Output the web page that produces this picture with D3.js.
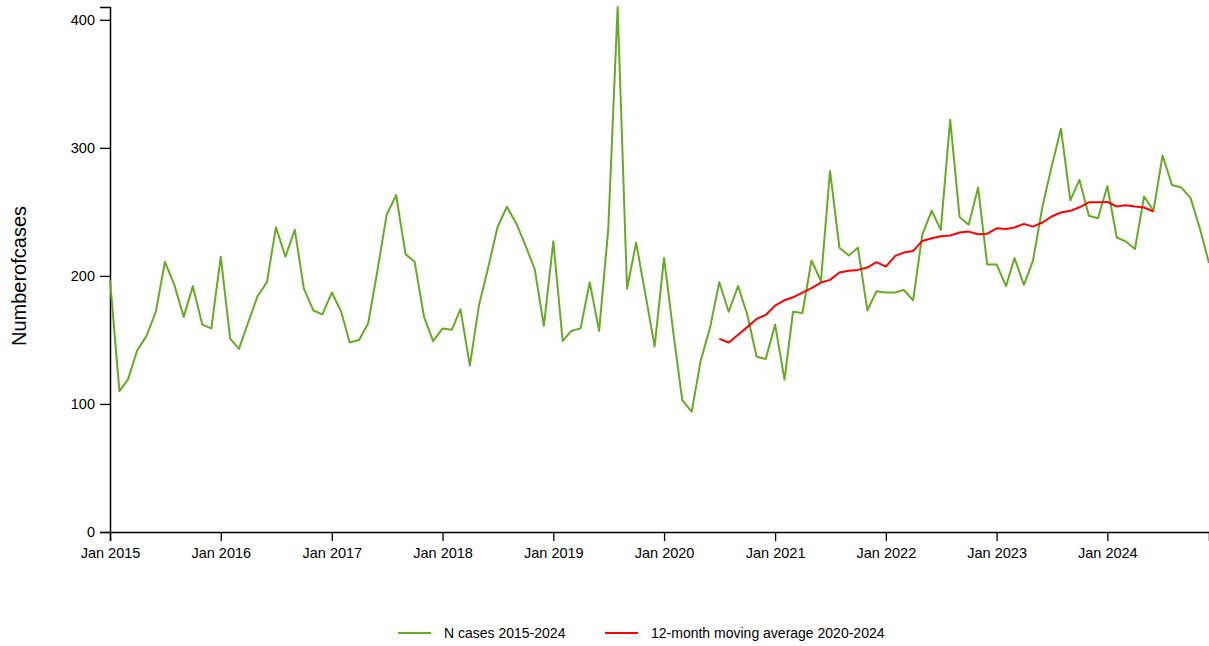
<!DOCTYPE html>
<html>
<head>
<meta charset="utf-8">
<script src="https://cdn.jsdelivr.net/npm/d3@7"></script>
<style>
  body { margin: 0; background: #fff; }
  svg text { font-family: "Liberation Sans", Arial, sans-serif; }
</style>
</head>
<body>
<div id="chart"></div>
<script>
// monthly case counts Jan 2015 .. Dec 2024
const cases = [
  197, 110, 119, 142, 153, 172, 211, 193, 168, 192, 162, 159,
  215, 151, 143, 164, 184, 195, 238, 215, 236, 190, 173, 170,
  187, 172, 148, 150, 163, 205, 248, 263, 217, 211, 168, 149,
  159, 158, 174, 130, 177, 207, 238, 254, 241, 224, 205, 161,
  227, 149, 157, 159, 195, 157, 236, 410, 190, 226, 185, 145,
  214, 155, 103, 94, 134, 160, 195, 172, 192, 170, 137, 135,
  162, 119, 172, 171, 212, 196, 282, 222, 216, 222, 173, 188,
  187, 187, 189, 181, 232, 251, 236, 322, 246, 240, 269, 209,
  209, 192, 214, 193, 212, 254, 285, 315, 259, 275, 247, 245,
  270, 230, 227, 221, 262, 251, 294, 271, 269, 261, 237, 210
];
// 12-month moving average, Jul 2020 .. Jun 2024
const movingAvg = [
  150.8, 148, 154, 160, 166.4, 169.5,
  176.8, 181, 183.3, 187, 190.4, 194.8, 196.9, 202.6, 204, 204.7, 206.5, 210.7,
  207.3, 215.6, 218.2, 219.5, 227.3, 229.4, 231, 231.5, 233.9, 234.6, 232.5, 233,
  237.2, 236.7, 237.8, 240.6, 238.5, 241.7, 246.4, 249.5, 250.8, 253.6, 257.5, 257.5,
  257.8, 254.2, 255.2, 254.2, 253.4, 250.3
];
const yTicks = [0, 100, 200, 300, 400];
const seriesNames = ["N cases 2015-2024", "12-month moving average 2020-2024"];
const seriesColors = ["#67ab25", "#ff0000"];

const start = new Date(2015, 0, 1);
const maStart = new Date(2020, 6, 1);
const caseData = cases.map((v, i) => ({ date: d3.timeMonth.offset(start, i), value: v }));
const maData = movingAvg.map((v, i) => ({ date: d3.timeMonth.offset(maStart, i), value: v }));

const width = 1209, height = 646;
const svg = d3.select("#chart").append("svg")
  .attr("width", width)
  .attr("height", height);

const x = d3.scaleTime()
  .domain([start, new Date(2024, 11, 1)])
  .range([110, 1209]);
const y = d3.scaleLinear()
  .domain([0, 410])
  .range([532, 7]);

// axes
const xAxis = svg.append("g")
  .attr("transform", "translate(0,532)")
  .call(d3.axisBottom(x)
    .ticks(d3.timeYear.every(1))
    .tickFormat(d3.timeFormat("%b %Y"))
    .tickSizeOuter(0)
    .tickSize(9)
    .tickPadding(7));
const yAxis = svg.append("g")
  .attr("transform", "translate(110,0)")
  .call(d3.axisLeft(y).tickValues(yTicks).tickSizeOuter(0).tickSize(10).tickPadding(5));

[xAxis, yAxis].forEach(a => {
  a.select(".domain").attr("stroke", "#000").attr("stroke-width", 1.5);
  a.selectAll(".tick line").attr("stroke", "#000").attr("stroke-width", 1.3);
  a.selectAll(".tick text").attr("font-size", 14.5).attr("fill", "#000")
    .style("font-family", "'Liberation Sans', Arial, sans-serif");
});

svg.append("text")
  .attr("transform", "translate(26,276) rotate(-90)")
  .attr("text-anchor", "middle")
  .attr("font-size", 20)
  .attr("fill", "#000")
  .text("Numberofcases");

const line = d3.line()
  .x(d => x(d.date))
  .y(d => y(d.value));

svg.append("path")
  .datum(caseData)
  .attr("fill", "none")
  .attr("stroke", seriesColors[0])
  .attr("stroke-width", 2)
  .attr("stroke-linejoin", "round")
  .attr("d", line);

svg.append("path")
  .datum(maData)
  .attr("fill", "none")
  .attr("stroke", seriesColors[1])
  .attr("stroke-width", 2)
  .attr("stroke-linejoin", "round")
  .attr("d", line);

// legend
const legendX = [398, 605];
const legend = svg.append("g");
seriesNames.forEach((name, i) => {
  legend.append("line")
    .attr("x1", legendX[i]).attr("x2", legendX[i] + 33)
    .attr("y1", 633).attr("y2", 633)
    .attr("stroke", seriesColors[i])
    .attr("stroke-width", 2);
  legend.append("text")
    .attr("x", legendX[i] + 46)
    .attr("y", 638)
    .attr("font-size", 14)
    .attr("fill", "#000")
    .text(name);
});
</script>
</body>
</html>
